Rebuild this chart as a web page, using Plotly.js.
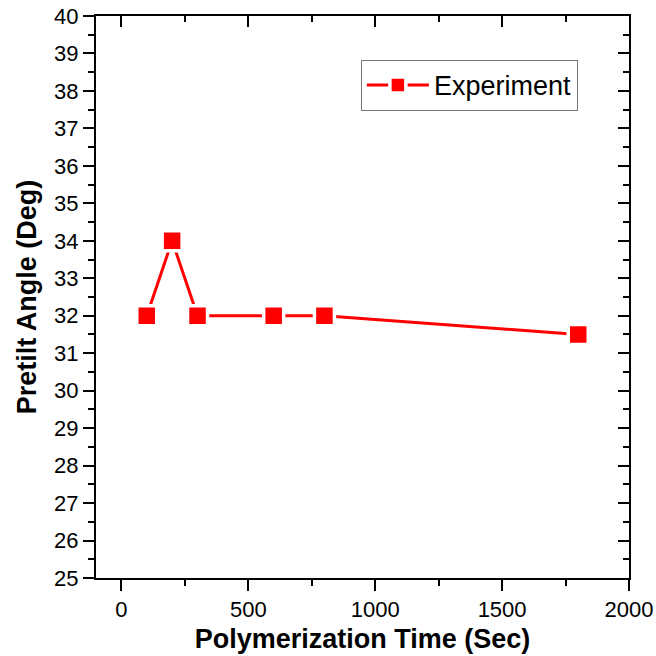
<!DOCTYPE html>
<html>
<head>
<meta charset="utf-8">
<script src="https://cdn.plot.ly/plotly-3.0.1.min.js"></script>
<style>html,body{margin:0;padding:0;background:#fff;}#chart{width:656px;height:656px;}</style>
</head>
<body>
<div id="chart"></div>
<script>
const timeSec = [100, 200, 300, 600, 800, 1800];
const pretiltDeg = [32, 34, 32, 32, 32, 31.5];
const seriesName = 'Experiment';
const xTitle = 'Polymerization Time (Sec)';
const yTitle = 'Pretilt Angle (Deg)';

const font = 'Liberation Sans, Arial, sans-serif';
const xr = [-100, 2000], yr = [25, 40];

const traces = [
  {
    x: timeSec, y: pretiltDeg, name: seriesName, type: 'scatter', mode: 'lines+markers',
    line: {color: '#ff0000', width: 3},
    marker: {symbol: 'square', size: 20, color: '#ff0000', line: {color: '#ffffff', width: 3.5}},
    cliponaxis: false
  },
  {
    x: timeSec, y: pretiltDeg, xaxis: 'x2', yaxis: 'y2', type: 'scatter', mode: 'markers',
    marker: {opacity: 0}, showlegend: false, hoverinfo: 'skip'
  }
];

const axisCommon = {
  showgrid: false, zeroline: false, showline: true, linecolor: '#000', linewidth: 2,
  tickcolor: '#000', tickwidth: 2, ticklen: 11,
  tickfont: {family: font, size: 22, color: '#000'}
};

const layout = {
  width: 656, height: 656,
  margin: {l: 96, r: 27, t: 16, b: 78},
  paper_bgcolor: '#fff', plot_bgcolor: '#fff',
  showlegend: true,
  legend: {
    x: 0.497, y: 0.922, xanchor: 'left', yanchor: 'top',
    bordercolor: '#777', borderwidth: 1, bgcolor: '#fff',
    font: {family: font, size: 27, color: '#000'},
    itemwidth: 62, tracegroupgap: 0
  },
  xaxis: Object.assign({}, axisCommon, {
    range: xr, tickmode: 'linear', tick0: 0, dtick: 500, ticks: 'outside',
    minor: {tickmode: 'linear', tick0: 0, dtick: 250, ticks: 'outside', ticklen: 6, tickwidth: 2, tickcolor: '#000'},
    title: {text: xTitle, font: {family: font, size: 27, color: '#000', weight: 'bold'}, standoff: 8}
  }),
  yaxis: Object.assign({}, axisCommon, {
    range: yr, tickmode: 'linear', tick0: 25, dtick: 1, ticks: 'outside',
    minor: {tickmode: 'linear', tick0: 25, dtick: 0.5, ticks: 'outside', ticklen: 6, tickwidth: 2, tickcolor: '#000'},
    title: {text: yTitle, font: {family: font, size: 27, color: '#000', weight: 'bold'}, standoff: 10}
  }),
  xaxis2: Object.assign({}, axisCommon, {
    overlaying: 'x', side: 'top', range: xr, tickmode: 'linear', tick0: 0, dtick: 500, ticks: 'inside',
    showticklabels: false,
    minor: {tickmode: 'linear', tick0: 0, dtick: 250, ticks: 'inside', ticklen: 6, tickwidth: 2, tickcolor: '#000'}
  }),
  yaxis2: Object.assign({}, axisCommon, {
    overlaying: 'y', side: 'right', range: yr, tickmode: 'linear', tick0: 25, dtick: 1, ticks: 'inside',
    showticklabels: false,
    minor: {tickmode: 'linear', tick0: 25, dtick: 0.5, ticks: 'inside', ticklen: 6, tickwidth: 2, tickcolor: '#000'}
  })
};

Plotly.newPlot('chart', traces, layout, {displayModeBar: false, staticPlot: true});
</script>
</body>
</html>
